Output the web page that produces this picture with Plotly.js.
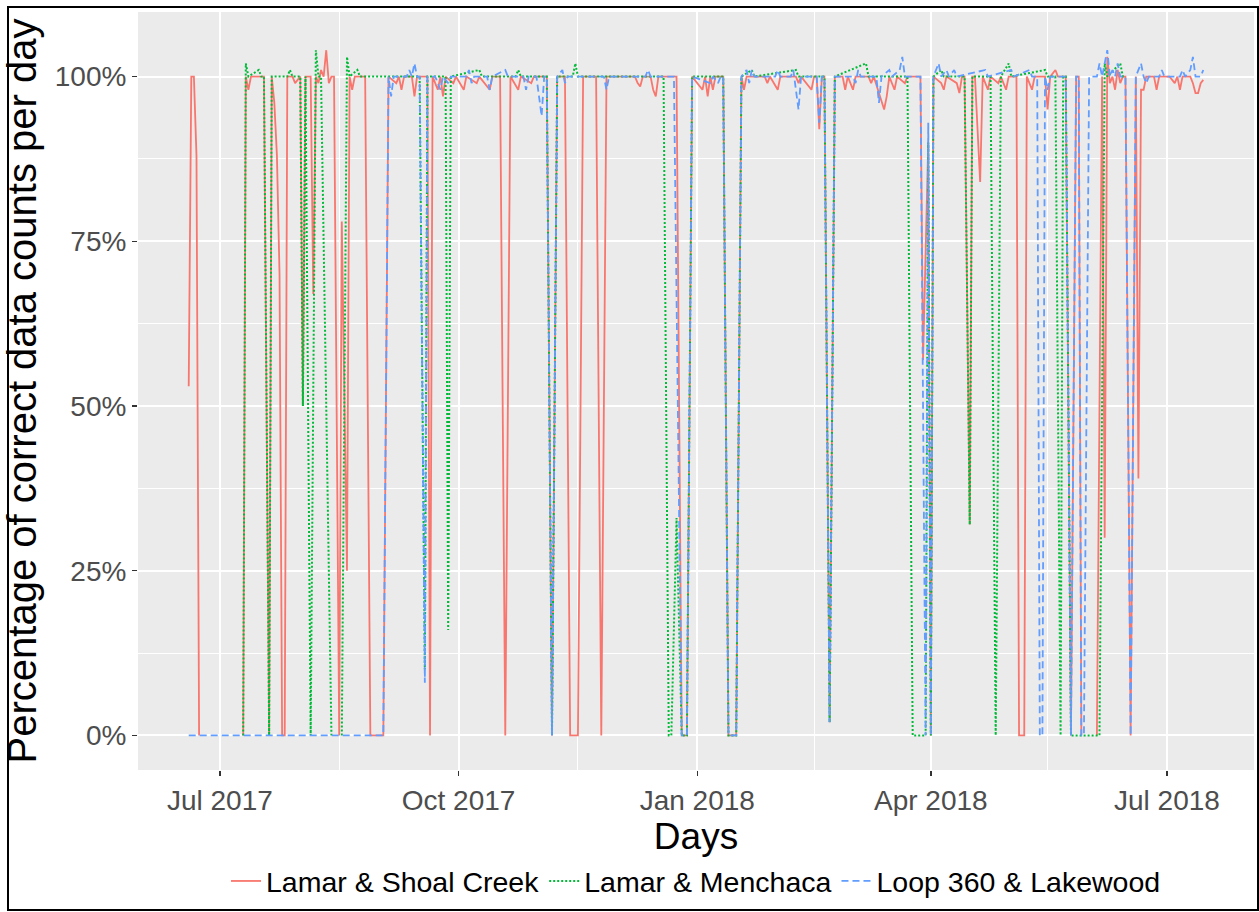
<!DOCTYPE html>
<html>
<head>
<meta charset="utf-8">
<script src="https://cdn.plot.ly/plotly-3.0.1.min.js"></script>
<style>
  html, body { margin: 0; padding: 0; background: #ffffff; }
  #wrap { position: relative; width: 1259px; height: 912px; }
  #chart { position: absolute; left: 0; top: 0; width: 1259px; height: 912px; }
  #frame { position: absolute; left: 7px; top: 6px; width: 1248px; height: 901px;
           border: 2px solid #000; pointer-events: none; }
</style>
</head>
<body>
<div id="wrap"><div id="chart"></div><div id="frame"></div></div>
<script>
// ---- Data (vertices, daily dates; null = no data) ----
const seriesNames = ['Lamar & Shoal Creek', 'Lamar & Menchaca', 'Loop 360 & Lakewood'];

const shoalDates = ['2017-06-19','2017-06-20','2017-06-21','2017-06-22','2017-06-23','2017-06-24',
'2017-07-10','2017-07-11','2017-07-12','2017-07-13','2017-07-18','2017-07-20','2017-07-21','2017-07-22','2017-07-23','2017-07-24','2017-07-25','2017-07-26','2017-07-27','2017-07-29','2017-07-30',
'2017-08-01','2017-08-02','2017-08-03','2017-08-05','2017-08-06','2017-08-07','2017-08-08','2017-08-09','2017-08-10','2017-08-11','2017-08-12','2017-08-13','2017-08-14','2017-08-16','2017-08-17','2017-08-19','2017-08-20','2017-08-21','2017-08-22','2017-08-26','2017-08-28',
'2017-09-02','2017-09-04','2017-09-07','2017-09-08','2017-09-09','2017-09-10','2017-09-13','2017-09-14','2017-09-15','2017-09-19','2017-09-20','2017-09-21','2017-09-23','2017-09-24','2017-09-25','2017-09-26','2017-09-29','2017-09-30',
'2017-10-03','2017-10-04','2017-10-08','2017-10-09','2017-10-13','2017-10-14','2017-10-17','2017-10-19','2017-10-21','2017-10-24','2017-10-25','2017-10-29','2017-10-30',
'2017-11-04','2017-11-06','2017-11-08','2017-11-11','2017-11-13','2017-11-16','2017-11-18','2017-11-23','2017-11-25','2017-11-27',
'2017-12-08','2017-12-09','2017-12-10','2017-12-11','2017-12-14','2017-12-15','2017-12-16','2017-12-17','2017-12-24','2017-12-26','2017-12-28','2017-12-30',
'2018-01-03','2018-01-04','2018-01-05','2018-01-06','2018-01-07','2018-01-08','2018-01-11','2018-01-13','2018-01-16','2018-01-18','2018-01-19','2018-01-20','2018-01-27','2018-01-28','2018-01-29',
'2018-02-01','2018-02-02','2018-02-08','2018-02-09','2018-02-10','2018-02-14','2018-02-15','2018-02-16','2018-02-17','2018-02-18','2018-02-19','2018-02-21','2018-02-23','2018-02-26','2018-02-27','2018-02-28',
'2018-03-01','2018-03-02','2018-03-03','2018-03-08','2018-03-09','2018-03-10','2018-03-14','2018-03-15','2018-03-16','2018-03-18','2018-03-19','2018-03-22','2018-03-23','2018-03-28','2018-03-29','2018-03-31',
'2018-04-01','2018-04-02','2018-04-05','2018-04-06','2018-04-07','2018-04-11','2018-04-12','2018-04-13','2018-04-14','2018-04-16','2018-04-17','2018-04-18','2018-04-20','2018-04-21','2018-04-23','2018-04-24','2018-04-27','2018-04-28','2018-04-30',
'2018-05-01','2018-05-04','2018-05-05','2018-05-07','2018-05-08','2018-05-10','2018-05-11','2018-05-15','2018-05-16','2018-05-17','2018-05-19','2018-05-20','2018-05-23','2018-05-25','2018-05-27','2018-05-28','2018-05-29','2018-05-30',
'2018-06-04','2018-06-06','2018-06-07','2018-06-08','2018-06-09','2018-06-10','2018-06-11','2018-06-12','2018-06-13','2018-06-14','2018-06-15','2018-06-17','2018-06-19','2018-06-20','2018-06-21','2018-06-22','2018-06-23','2018-06-26','2018-06-27','2018-06-28',
'2018-07-02','2018-07-04','2018-07-05','2018-07-06','2018-07-07','2018-07-10','2018-07-11','2018-07-12','2018-07-13','2018-07-14','2018-07-15'];
const shoalValues = [53,100,100,88,0,null,
0,100,98,100,100,0,100,96,88,70,0,0,100,100,99,
100,50,100,100,67,100,99,101,100,104,99,100,100,0,78,25,100,98,100,100,0,
0,100,99,100,98,100,100,97,100,100,0,100,98,100,97,100,99,100,
98,100,99,100,98,100,100,0,100,98,100,99,100,
100,0,100,100,0,0,100,100,0,100,
100,99,98.5,100,100,98,97,100,100,0,0,100,
98,100,97,100,98,100,100,0,0,100,98,100,100,99,100,
98,100,100,99,100,98,100,100,92,100,100,2,100,100,98,100,
99,98,100,100,99,100,95,97,100,98,100,99,100,100,57,90,
0,100,99,98,100,99,97.5,100,100,32,100,100,84,100,98,100,99,100,98,
100,100,0,0,100,98,100,100,95,100,101,100,100,0,100,100,0,null,
0,100,30,103,99,100,98,101,99,100,100,0,100,39,98,98,100,100,98,100,
100,99,100,98,100,100,99,97.5,97.5,99,99.5];

const menchacaDates = ['2017-07-10','2017-07-11','2017-07-12','2017-07-16','2017-07-17','2017-07-18','2017-07-20','2017-07-21','2017-07-27','2017-07-28','2017-07-29',
'2017-08-01','2017-08-02','2017-08-03','2017-08-05','2017-08-07','2017-08-08','2017-08-09','2017-08-13','2017-08-14','2017-08-17','2017-08-19','2017-08-20','2017-08-23','2017-08-24',
'2017-09-16','2017-09-18','2017-09-19','2017-09-26','2017-09-27','2017-09-28',
'2017-10-09','2017-10-10','2017-10-23','2017-10-24','2017-10-25',
'2017-11-04','2017-11-06','2017-11-08','2017-11-14','2017-11-15','2017-11-16',
'2017-12-19','2017-12-21','2017-12-22','2017-12-24','2017-12-26','2017-12-28','2017-12-30',
'2018-01-11','2018-01-13','2018-01-16','2018-01-18','2018-01-22','2018-01-23',
'2018-02-08','2018-02-09','2018-02-19','2018-02-21','2018-02-23',
'2018-03-07','2018-03-08','2018-03-23','2018-03-25','2018-03-30','2018-03-31',
'2018-04-01','2018-04-02','2018-04-05','2018-04-06','2018-04-14','2018-04-16','2018-04-17','2018-04-24','2018-04-26','2018-04-28',
'2018-05-01','2018-05-02','2018-05-15','2018-05-16','2018-05-19','2018-05-21','2018-05-22','2018-05-23','2018-05-25',
'2018-06-05','2018-06-07','2018-06-08','2018-06-13','2018-06-14','2018-06-15'];
const menchacaValues = [0,102,100,101,100,100,0,100,100,101,100,
100,50,100,0,104,100,100,0,null,0,103,100,101,100,
100,10,100,100,16,100,
101,100,100,101,100,
100,0,100,100,102,100,
100,0,0,33,0,0,100,
100,0,0,100,101,100,
101,100,100,2,100,
102,100,100,0,0,90,
0,100,101,100,100,32,100,100,0,100,
102,100,101,100,100,0,100,100,0,
0,102,100,102,100,100];

const lakewoodDates = ['2017-06-19','2017-09-02','2017-09-04','2017-09-05','2017-09-06','2017-09-11','2017-09-12','2017-09-13','2017-09-14','2017-09-15','2017-09-16','2017-09-18','2017-09-19','2017-09-22','2017-09-23','2017-09-24','2017-09-25','2017-09-27','2017-09-28',
'2017-10-04','2017-10-05','2017-10-06','2017-10-07','2017-10-12','2017-10-13','2017-10-14','2017-10-19','2017-10-20','2017-10-26','2017-10-27','2017-10-28','2017-10-31',
'2017-11-02','2017-11-03','2017-11-04','2017-11-06','2017-11-08','2017-11-10','2017-11-11','2017-11-12','2017-11-26','2017-11-27','2017-11-28',
'2017-12-12','2017-12-13','2017-12-14','2017-12-23','2017-12-26','2017-12-28','2017-12-30',
'2018-01-06','2018-01-07','2018-01-09','2018-01-10','2018-01-11','2018-01-13','2018-01-16','2018-01-18','2018-01-20','2018-01-21','2018-01-22','2018-01-23','2018-01-31',
'2018-02-01','2018-02-02','2018-02-06','2018-02-07','2018-02-08','2018-02-09','2018-02-10','2018-02-16','2018-02-17','2018-02-18','2018-02-19','2018-02-21','2018-02-23',
'2018-03-02','2018-03-03','2018-03-04','2018-03-05','2018-03-11','2018-03-12','2018-03-13','2018-03-16','2018-03-17','2018-03-20','2018-03-21','2018-03-22','2018-03-28','2018-03-30','2018-03-31',
'2018-04-01','2018-04-02','2018-04-04','2018-04-05','2018-04-07','2018-04-08','2018-04-10','2018-04-11','2018-04-22','2018-04-23',
'2018-05-02','2018-05-03','2018-05-09','2018-05-10','2018-05-12','2018-05-13','2018-05-14','2018-05-15','2018-05-16','2018-05-17','2018-05-23','2018-05-25','2018-05-27','2018-05-28','2018-05-29','2018-05-30',
'2018-06-01','2018-06-04','2018-06-05','2018-06-06','2018-06-08','2018-06-09','2018-06-10','2018-06-11','2018-06-12','2018-06-13','2018-06-15','2018-06-17','2018-06-19','2018-06-21','2018-06-22','2018-06-23','2018-06-24','2018-06-28','2018-06-29','2018-06-30',
'2018-07-06','2018-07-07','2018-07-08','2018-07-10','2018-07-11','2018-07-12','2018-07-14','2018-07-15'];
const lakewoodValues = [0,0,100,97,100,100,101,100,102,100,100,8,100,100,99,98,100,99,100,
100,101,99,100,100,98,100,101,100,100,98,100,100,
94,100,100,0,100,101,99,100,100,98,100,
100,101,100,100,0,0,100,
99,100,99,100,100,0,0,100,101,99,101,100,100,
101,100,100,101,98,95,100,100,93,100,100,2,100,
100,99,101,100,100,96,100,101,100,101,103,100,100,0,93,
0,100,102,100,101,100,101,100,101,100,
101,100,101,100,100,0,0,100,98,100,100,0,100,100,0,0,
100,100,102,100,104,100,101,100,102,100,100,0,100,102,100,99,100,100,101,100,
100,101,100,101,103,100,100,101];

const yTickVals = [0, 25, 50, 75, 100];
const yTickText = ['0%', '25%', '50%', '75%', '100%'];
const xTickVals = ['2017-07-01', '2017-10-01', '2018-01-01', '2018-04-01', '2018-07-01'];
const xTickText = ['Jul 2017', 'Oct 2017', 'Jan 2018', 'Apr 2018', 'Jul 2018'];
const xMinorVals = ['2017-08-16', '2017-11-16', '2018-02-15', '2018-05-16'];
const yMinorVals = [12.5, 37.5, 62.5, 87.5];

const colors = ['#F8766D', '#00BA38', '#619CFF'];

const traces = [
  { x: shoalDates, y: shoalValues, name: seriesNames[0], type: 'scatter', mode: 'lines', connectgaps: false,
    line: { color: colors[0], width: 1.8, dash: 'solid' } },
  { x: menchacaDates, y: menchacaValues, name: seriesNames[1], type: 'scatter', mode: 'lines', connectgaps: false,
    line: { color: colors[1], width: 2, dash: '2px,2px' } },
  { x: lakewoodDates, y: lakewoodValues, name: seriesNames[2], type: 'scatter', mode: 'lines', connectgaps: false,
    line: { color: colors[2], width: 1.8, dash: '7px,4px' } }
];

const fontFam = '"Liberation Sans", Arial, Helvetica, sans-serif';

const layout = {
  width: 1259, height: 912,
  margin: { l: 138, r: 5, t: 12, b: 139 },
  paper_bgcolor: '#ffffff',
  plot_bgcolor: '#EBEBEB',
  font: { family: fontFam, color: '#000' },
  showlegend: true,
  xaxis: {
    type: 'date',
    range: ['2017-05-30 11:00', '2018-08-03 13:00'],
    tickmode: 'array', tickvals: xTickVals, ticktext: xTickText,
    ticks: 'outside', ticklen: 5, tickwidth: 1.5, tickcolor: '#333333',
    tickfont: { size: 28, color: '#4D4D4D', family: fontFam },
    showgrid: true, gridcolor: '#ffffff', gridwidth: 2,
    minor: { tickmode: 'array', tickvals: xMinorVals, showgrid: true, gridcolor: '#ffffff', gridwidth: 1, ticks: '' },
    zeroline: false, showline: false,
    title: { text: 'Days', font: { size: 37, color: '#000', family: fontFam }, standoff: 0 },
    automargin: false
  },
  yaxis: {
    range: [-5.25, 109.8],
    tickmode: 'array', tickvals: yTickVals, ticktext: yTickText,
    ticks: 'outside', ticklen: 5, tickwidth: 1.5, tickcolor: '#333333',
    tickfont: { size: 28, color: '#4D4D4D', family: fontFam },
    showgrid: true, gridcolor: '#ffffff', gridwidth: 2,
    minor: { tickmode: 'array', tickvals: yMinorVals, showgrid: true, gridcolor: '#ffffff', gridwidth: 1, ticks: '' },
    zeroline: false, showline: false,
    title: { text: 'Percentage of correct data counts per day', font: { size: 40, color: '#000', family: fontFam }, standoff: 6 },
    automargin: false
  },
  legend: {
    orientation: 'h', x: 0.5, xanchor: 'center', y: -0.147, yanchor: 'middle',
    font: { size: 28.5, color: '#000', family: fontFam },
    bgcolor: 'rgba(0,0,0,0)', itemwidth: 30, tracegroupgap: 0
  }
};

Plotly.newPlot('chart', traces, layout, { displayModeBar: false, staticPlot: true });
</script>
</body>
</html>
